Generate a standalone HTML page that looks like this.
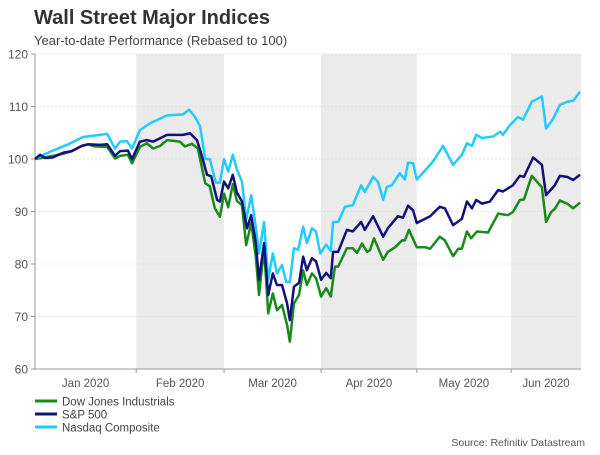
<!DOCTYPE html>
<html><head><meta charset="utf-8"><style>
body{margin:0;background:#fff;font-family:"Liberation Sans",Arial,sans-serif}
svg text{font-family:"Liberation Sans",Arial,sans-serif}
</style></head><body>
<svg id="chart" width="600" height="450" xmlns="http://www.w3.org/2000/svg">
<text x="34" y="24" font-size="20" font-weight="bold" fill="#333">Wall Street Major Indices</text>
<text x="34" y="45" font-size="13" fill="#444">Year-to-date Performance (Rebased to 100)</text>
<g id="shades"></g><g id="grid"></g><g id="axes"></g><g id="lines"></g>
<g>
<line x1="35" y1="401" x2="57" y2="401" stroke="#1a8a1a" stroke-width="3"/>
<text x="62" y="405.5" font-size="11.5" fill="#444">Dow Jones Industrials</text>
<line x1="35" y1="414" x2="57" y2="414" stroke="#12127a" stroke-width="3"/>
<text x="62" y="418.5" font-size="11.5" fill="#444">S&amp;P 500</text>
<line x1="35" y1="427" x2="57" y2="427" stroke="#22ccff" stroke-width="3"/>
<text x="62" y="431.5" font-size="11.5" fill="#444">Nasdaq Composite</text>
</g>
<text x="585" y="446" font-size="10.5" fill="#555" text-anchor="end">Source: Refinitiv Datastream</text>
</svg>
<script>
const yTicks=[60,70,80,90,100,110,120];
const monthLabels=["Jan 2020","Feb 2020","Mar 2020","Apr 2020","May 2020","Jun 2020"];
const monthStarts=[0,22,41.1,62.2,83,103.5];
const lastDay=118.7;
const shadedMonths=[1,3,5];
const dowDays=[0,2.2,6.1,8,10.2,11.5,13,15.7,17.4,18.5,20.2,21.1,22.8,24.3,25.7,27.2,28.7,31.5,32.6,34.1,35.4,37,38,39.1,40.2,41.1,42,43,43.9,45,45.9,47,48,48.7,49.8,50.7,51.7,52.6,53.7,54.8,55.4,56.3,57.4,58.3,59.1,60.2,61.1,62.2,63.3,64.3,65.2,65.9,67.8,69.1,70,71.1,72.2,72.8,73.7,75.7,76.7,78.3,79.8,80.4,81.3,83,84.8,85.9,88,89.1,90.9,92,92.8,93.9,94.8,96.1,98.5,100.7,102.8,103.9,105.4,106.3,108,110.2,111.1,112.2,113,114.1,115.7,117,118.5];
const dowVals=[100,100.3,101,101.5,102.5,102.8,102.4,102.3,100.1,100.6,100.8,99.2,102.3,103,102,102.5,103.6,103.3,102.4,102.9,102,95.4,94.8,90.6,89,93.4,90.8,95.2,92,91.2,83.6,87.8,81.4,74.1,83,70.6,74.4,71.2,72.2,68.4,65.2,72.5,74.1,78.8,76,78.2,77.3,73.8,75.4,73.8,79.5,79.5,83,83,82.1,83.9,82.3,82.6,84.9,80.8,82.3,83.2,84.5,84.5,86.5,83.2,83.2,82.9,85.2,84.5,81.5,82.9,82.9,86.2,84.9,86.2,86,89.6,89.3,89.9,92.2,92.3,96.8,94.6,88,89.9,90.5,92.1,91.5,90.6,91.7];
const spDays=[0,1.1,2.2,3.9,6.1,8,10.2,11.5,14.1,15.7,17.4,18.5,20.2,21.1,22.8,24.3,25.7,28.7,32.2,33.7,35.2,35.9,37.4,38.3,39.6,40.2,41.1,42,43,43.9,45,46.1,47,48,48.7,49.8,50.7,51.7,52.6,53.7,54.8,55.4,56.3,57.4,58.3,59.1,60.2,61.1,62.2,63.3,64.3,64.8,65.9,67.8,69.1,70.9,71.7,73.5,75.7,76.7,78.9,80,81.1,82.2,83,85.9,88,89.1,90.9,92.8,93.9,95,95.9,97.2,98.9,100.7,101.7,103.9,105.4,106.3,108.3,110.2,111.1,113,114.1,115.7,117,118.5];
const spVals=[100,100.8,100.2,100.3,101.2,101.5,102.5,102.8,102.7,102.8,100.6,101.5,101.6,100,103.3,103.6,103.3,104.6,104.6,104.9,103.6,101.7,97,96.7,92.2,91.9,95.7,94.4,97,93.6,91.9,86.8,89.3,84,77,84,74.1,78.2,76,76,72.5,69.3,75.7,76.4,81.4,78.8,81.1,80.5,77,78.3,77.3,82.3,82.3,86.5,86.2,88,86.5,89.1,85.2,86.8,89.1,88.8,91.1,90.2,87.8,89.1,90.9,90.6,87.4,88.6,91.9,90.6,92.2,91.5,91.9,94.1,93.8,95,96.8,96.6,100.3,98.9,93.1,95,96.8,96.6,96,97];
const nqDays=[0,3.3,7,10.4,14.1,15.7,17.4,18.5,20,21.1,22.8,25,27.2,28.7,32.2,33.5,34.8,35.9,37,38,39.3,40.2,41.1,42,43,43.9,45,45.9,47,48,48.7,49.8,50.7,51.7,52.6,53.7,54.6,55.4,56.3,57.2,58.3,59.1,60.2,61.1,62,63.3,64.3,64.8,65.9,67.4,69.1,70.9,71.7,73.5,74.6,75.7,76.5,77.6,79.3,80.4,81.1,82.2,83,85.2,86.5,88.7,90.9,92.8,93.9,95,95.9,97.2,99.6,101.1,101.7,103.3,105,106.1,108,110.2,111.1,112.6,114.1,115.7,117,118.5];
const nqVals=[100,101.4,102.7,104.2,104.6,104.8,102,103.3,103.4,102,105.5,106.8,107.7,108.3,108.5,109.4,108,106.2,100,100,95.5,95.5,100,97.6,100.8,98,95.7,88.4,93.1,87.1,82,88,77,82,78.2,79.8,76.6,76.6,83,82.7,87.1,84,86.8,86.2,82,83.7,82.5,88,88,90.9,91.2,95,93.7,96.6,95.6,92.2,94.7,95,97.3,96.1,99.3,99.2,96.1,98.2,99.5,102.5,98.9,100.8,103,102.5,104.6,104,104.3,105.2,104.6,106.5,108,107.5,110.9,111.9,105.8,107.6,110.3,110.9,111.1,112.8];

const X0=35,X1=581,Y0=369,Y1=54;
const xs=d=>X0+(d/lastDay)*(X1-X0);
const ys=v=>Y0-(v-60)/(120-60)*(Y0-Y1);
const NS="http://www.w3.org/2000/svg";
function mk(tag,attrs,parent){const e=document.createElementNS(NS,tag);for(const k in attrs)e.setAttribute(k,attrs[k]);parent.appendChild(e);return e;}
const shades=document.getElementById('shades'),grid=document.getElementById('grid'),axes=document.getElementById('axes'),lines=document.getElementById('lines');
shadedMonths.forEach(m=>{
  const end=m+1<monthStarts.length?monthStarts[m+1]:lastDay;
  const r=mk('rect',{x:xs(monthStarts[m]),y:Y1,width:xs(end)-xs(monthStarts[m]),height:Y0-Y1,fill:'#ebebeb'},shades);
  
  
});
yTicks.forEach(t=>{
  if(t>60){const g=mk('line',{x1:X0,x2:X1,y1:ys(t),y2:ys(t),stroke:'#dcdcdc','stroke-width':0.7,'stroke-dasharray':'2,2'},grid);
  
  }
  mk('line',{x1:X0-4,x2:X0,y1:ys(t),y2:ys(t),stroke:'#999'},axes);
  const tx=mk('text',{x:X0-7,y:ys(t)+4.5,'font-size':12,fill:'#555','text-anchor':'end'},axes);
  tx.textContent=t;
  
  
});
const ya=mk('line',{x1:X0,x2:X0,y1:Y1,y2:Y0,stroke:'#999'},axes);


const xa=mk('line',{x1:X0,x2:X1,y1:Y0,y2:Y0,stroke:'#999'},axes);


monthLabels.forEach((lab,i)=>{
  const s=monthStarts[i],e=i+1<monthStarts.length?monthStarts[i+1]:lastDay;
  if(i>0)mk('line',{x1:xs(s),x2:xs(s),y1:Y0,y2:Y0+4,stroke:'#999'},axes);
  const tx=mk('text',{x:(xs(s)+xs(e))/2,y:Y0+18,'font-size':11.5,fill:'#555','text-anchor':'middle'},axes);
  tx.textContent=lab;
  
  
});
function series(days,vals,color,name){
  const p=mk('polyline',{points:days.map((d,i)=>xs(d)+','+ys(vals[i])).join(' '),fill:'none',stroke:color,'stroke-width':2.5,'stroke-linejoin':'round'},lines);
  
  
}
series(dowDays,dowVals,'#1a8a1a','dow-line');
series(nqDays,nqVals,'#22ccff','nasdaq-line');
series(spDays,spVals,'#12127a','sp500-line');
</script>
</body></html>
